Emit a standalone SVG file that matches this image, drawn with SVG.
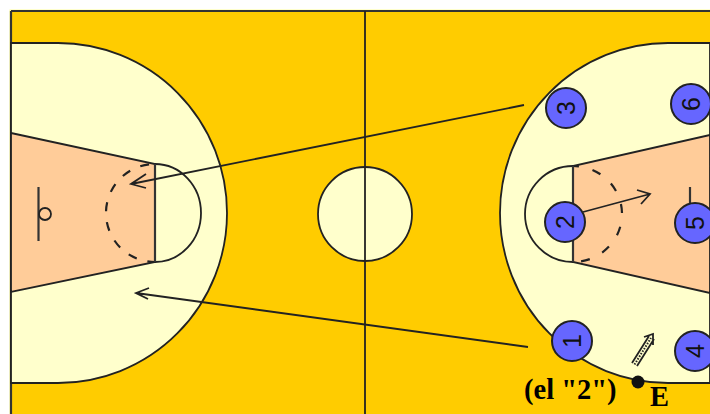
<svg xmlns="http://www.w3.org/2000/svg" width="710" height="414" viewBox="0 0 710 414">
<style>
.l{fill:none;stroke:#222;stroke-width:1.8}
.b{fill:none;stroke:#333;stroke-width:2.2}
.d{fill:none;stroke:#222;stroke-width:2.2}
.a{fill:none;stroke:#222;stroke-width:1.8}
.z{fill:#ffffcc;stroke:#222;stroke-width:1.800}
.k{fill:#ffcc99;stroke:#222;stroke-width:1.800}
.p circle{fill:#6666ff;stroke:#222;stroke-width:2}
.p text{font:25px "Liberation Sans",Arial,sans-serif;fill:#111;text-anchor:middle}
.t{font:bold 28.500px "Liberation Serif","Times New Roman",serif;fill:#000}
</style>
<rect width="710" height="414" fill="#fff"/>
<g id="court">
<rect x="9.500" y="9.500" width="701" height="405" fill="#ffff99"/>
<rect x="11" y="11" width="699" height="403" fill="#ffcc00"/>
<path d="M11,11H710M11,11V414" class="b"/>
</g>
<g id="left-zone">
<path d="M11,43H58A169,170 0 0 1 58,383H11Z" class="z"/>
<path d="M11,133L155,164V262L11,292Z" class="k"/>
<path d="M155,164A46,49 0 0 1 155,262" class="l"/>
<path d="M155,164A49,49 0 0 0 155,262" class="d" stroke-dasharray="9 11" stroke-dashoffset="14"/>
<path d="M155,164V262" class="b"/>
<path d="M38.500,187V241" class="b"/>
<circle cx="45" cy="214" r="6" class="l"/>
</g>
<g id="right-zone">
<path d="M710,43H668A168,170 0 0 0 668,383H710Z" class="z"/>
<path d="M710,135L573,166V262L710,293Z" class="k"/>
<path d="M573,166A48,48 0 0 0 573,262" class="l"/>
<path d="M573,166A49,48 0 0 1 573,262" class="d" stroke-dasharray="9 14" stroke-dashoffset="3"/>
<path d="M573,166V262" class="b"/>
<path d="M690,187V215" class="b"/>
</g>
<g id="center">
<circle cx="365" cy="214" r="47" class="z"/>
<path d="M365,11V414" class="l"/>
</g>
<g id="connectors">
<path class="a" d="M524,105L131,184M146,174L131,184L146,188"/>
<path class="a" d="M528,347L136,293M149,288L136,293L148,299"/>
<path class="a" d="M583,212L650,194M637,190L650,194L641,204"/>
<path class="a" stroke-width="1.400" d="M632,363L649,336M637,366L654,339M644,337L653,334L653,345"/>
<path fill="none" stroke="#222" stroke-width="2" stroke-dasharray="1.500 1.500" d="M634.500,364.500L651,338"/>
</g>
<g id="p3" class="p"><circle cx="566" cy="108" r="20"/><text transform="translate(575,108) rotate(-90)">3</text></g>
<g id="p6" class="p"><circle cx="691" cy="104" r="20"/><text transform="translate(700,104) rotate(-90)">6</text></g>
<g id="p2" class="p"><circle cx="565" cy="222" r="20"/><text transform="translate(574,222) rotate(-90)">2</text></g>
<g id="p5" class="p"><circle cx="695" cy="223" r="20"/><text transform="translate(704,223) rotate(-90)">5</text></g>
<g id="p1" class="p"><circle cx="572" cy="341" r="20"/><text transform="translate(581,341) rotate(-90)">1</text></g>
<g id="p4" class="p"><circle cx="695" cy="351" r="20"/><text transform="translate(704,351) rotate(-90)">4</text></g>
<g id="e"><circle cx="638" cy="382" r="6.500" fill="#111"/><text class="t" x="650" y="406">E</text></g>
<g id="label"><text class="t" x="524" y="399">(el "2")</text></g>
</svg>
